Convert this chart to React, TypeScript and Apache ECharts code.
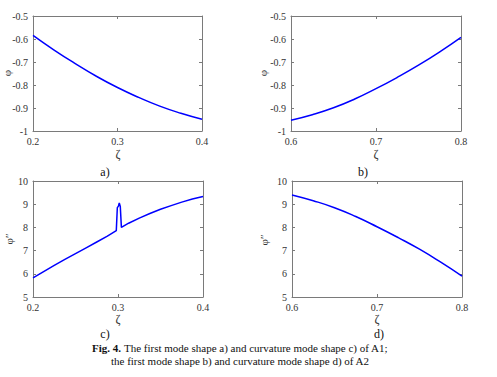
import React, { useEffect, useRef } from "react";
import * as echarts from "echarts";

// Panel a) first mode shape of A1
const aX = [0.2, 0.225, 0.25, 0.275, 0.3, 0.325, 0.35, 0.375, 0.4];
const aY = [-0.584, -0.648, -0.707, -0.762, -0.811, -0.854, -0.892, -0.923, -0.949];
// Panel b) first mode shape of A2
const bX = [0.6, 0.625, 0.65, 0.675, 0.7, 0.725, 0.75, 0.775, 0.8];
const bY = [-0.953, -0.929, -0.899, -0.861, -0.816, -0.767, -0.714, -0.656, -0.593];
// Panel c) curvature mode shape of A1 (with damage spike)
const cX = [0.2, 0.2125, 0.225, 0.2375, 0.25, 0.2625, 0.275, 0.2875, 0.298, 0.2992, 0.3005, 0.3015, 0.3027, 0.304, 0.3125, 0.325, 0.3375, 0.35, 0.3625, 0.375, 0.3875, 0.4];
const cY = [5.82, 6.09, 6.36, 6.62, 6.87, 7.12, 7.37, 7.62, 7.86, 8.85, 8.92, 9.05, 8.9, 8.0, 8.18, 8.4, 8.6, 8.78, 8.94, 9.09, 9.22, 9.33];
// Panel d) curvature mode shape of A2
const dX = [0.6, 0.625, 0.65, 0.675, 0.7, 0.725, 0.75, 0.775, 0.8];
const dY = [9.4, 9.15, 8.85, 8.47, 8.03, 7.56, 7.06, 6.5, 5.9];

const panelLabels = ["a)", "b)", "c)", "d)"];
const captionBold = "Fig. 4.";
const captionLine1 = " The first mode shape a) and curvature mode shape c) of A1;";
const captionLine2 = "the first mode shape b) and curvature mode shape d) of A2";

const FONT = "Liberation Serif";
const AXIS_COLOR = "#7a7a7a";
const TEXT_COLOR = "#333";

const grids = [
  { left: 33, top: 16, width: 169, height: 115 },
  { left: 291, top: 16, width: 170, height: 115 },
  { left: 33, top: 181, width: 170, height: 116 },
  { left: 292, top: 181, width: 170, height: 116 },
];

const xRanges = [
  [0.2, 0.4],
  [0.6, 0.8],
  [0.2, 0.4],
  [0.6, 0.8],
];
const yRanges = [
  [-1, -0.5, 0.1],
  [-1, -0.5, 0.1],
  [5, 10, 1],
  [5, 10, 1],
];

const seriesX = [aX, bX, cX, dX];
const seriesY = [aY, bY, cY, dY];

export default function App() {
  const ref = useRef<HTMLDivElement>(null);
  useEffect(() => {
    if (!ref.current) return;
    const chart = echarts.init(ref.current, undefined, { renderer: "svg" });
    const xAxis: any[] = [];
    const yAxis: any[] = [];
    const series: any[] = [];
    grids.forEach((g, i) => {
      const baseLine = { show: true, lineStyle: { color: AXIS_COLOR, width: 1 } };
      const tick = { show: true, inside: true, length: 3, lineStyle: { color: AXIS_COLOR } };
      xAxis.push({
        type: "value",
        gridIndex: i,
        min: xRanges[i][0],
        max: xRanges[i][1],
        interval: 0.1,
        position: "bottom",
        axisLine: baseLine,
        axisTick: tick,
        splitLine: { show: false },
        axisLabel: { color: TEXT_COLOR, fontFamily: FONT, fontSize: 10, margin: 5 },
      });
      xAxis.push({
        type: "value",
        gridIndex: i,
        min: xRanges[i][0],
        max: xRanges[i][1],
        interval: 0.1,
        position: "top",
        axisLine: baseLine,
        axisTick: tick,
        splitLine: { show: false },
        axisLabel: { show: false },
      });
      yAxis.push({
        type: "value",
        gridIndex: i,
        min: yRanges[i][0],
        max: yRanges[i][1],
        interval: yRanges[i][2],
        position: "left",
        axisLine: baseLine,
        axisTick: tick,
        splitLine: { show: false },
        axisLabel: { color: TEXT_COLOR, fontFamily: FONT, fontSize: 10, margin: 5 },
      });
      yAxis.push({
        type: "value",
        gridIndex: i,
        min: yRanges[i][0],
        max: yRanges[i][1],
        interval: yRanges[i][2],
        position: "right",
        axisLine: baseLine,
        axisTick: tick,
        splitLine: { show: false },
        axisLabel: { show: false },
      });
      series.push({
        type: "line",
        xAxisIndex: i * 2,
        yAxisIndex: i * 2,
        data: seriesX[i].map((x, k) => [x, seriesY[i][k]]),
        showSymbol: false,
        smooth: i === 2 ? false : 0.5,
        lineStyle: { color: "#0000ff", width: 1.5 },
        itemStyle: { color: "#0000ff" },
      });
    });

    const graphic: any[] = [];
    const labelPos = [
      [105, 172],
      [363, 172],
      [105, 334],
      [379, 334],
    ];
    panelLabels.forEach((t, i) => {
      graphic.push({
        type: "text",
        x: labelPos[i][0],
        y: labelPos[i][1],
        style: { text: t, fontFamily: FONT, fontSize: 12, fill: "#111", align: "center", verticalAlign: "middle" },
      });
    });
    const zetaPos = [
      [118, 154],
      [376, 154],
      [118, 319],
      [377, 319],
    ];
    zetaPos.forEach((p) => {
      graphic.push({
        type: "text",
        x: p[0],
        y: p[1],
        style: { text: "ζ", fontFamily: FONT, fontSize: 12, fill: TEXT_COLOR, align: "center", verticalAlign: "middle" },
      });
    });
    const phiPos = [
      [7, 73, "φ"],
      [263, 73, "φ"],
      [9, 239, "φ″"],
      [264, 240, "φ″"],
    ];
    phiPos.forEach((p) => {
      graphic.push({
        type: "text",
        x: p[0] as number,
        y: p[1] as number,
        rotation: Math.PI / 2,
        style: { text: p[2], fontFamily: FONT, fontSize: 11, fill: TEXT_COLOR, align: "center", verticalAlign: "middle" },
      });
    });
    graphic.push({
      type: "text",
      x: 240,
      y: 348,
      style: {
        text: "{b|" + captionBold + "}{r|" + captionLine1 + "}",
        align: "center",
        verticalAlign: "middle",
        rich: {
          b: { fontFamily: FONT, fontSize: 11, fontWeight: "bold", fill: "#111" },
          r: { fontFamily: FONT, fontSize: 11, fill: "#111" },
        },
      },
    });
    graphic.push({
      type: "text",
      x: 240,
      y: 361,
      style: { text: captionLine2, fontFamily: FONT, fontSize: 11, fill: "#111", align: "center", verticalAlign: "middle" },
    });

    chart.setOption({
      animation: false,
      backgroundColor: "#ffffff",
      grid: grids.map((g) => ({ ...g, containLabel: false })),
      xAxis,
      yAxis,
      series,
      graphic,
    });
    return () => chart.dispose();
  }, []);
  return (
    <div
      ref={ref}
      style={{ position: "absolute", left: 0, top: 0, width: 497, height: 377 }}
    />
  );
}
